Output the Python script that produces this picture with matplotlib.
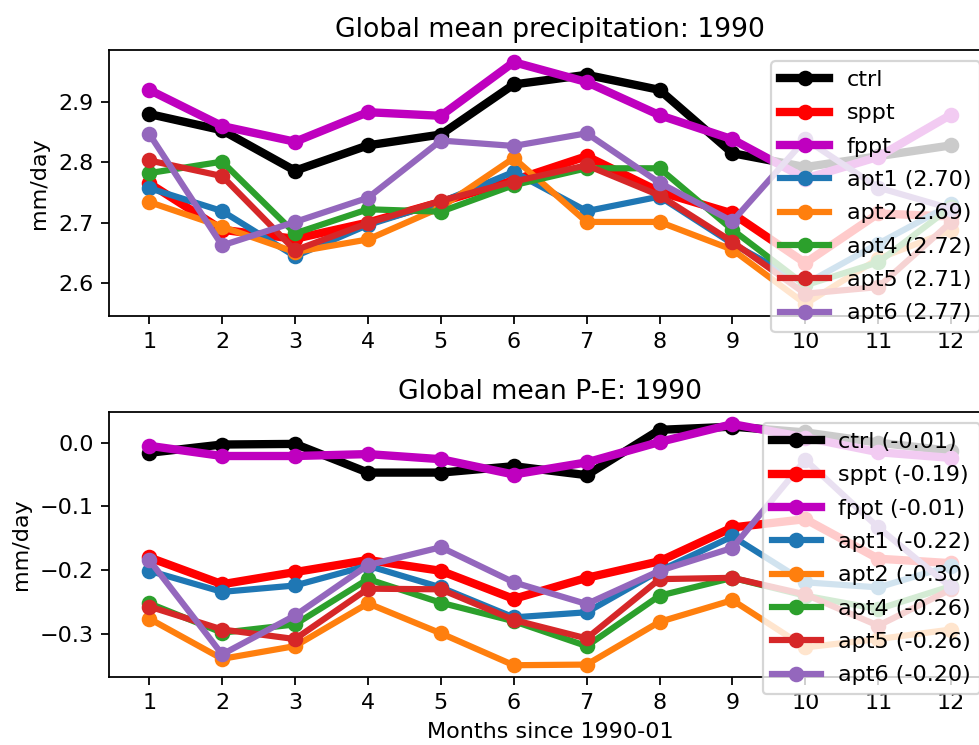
import numpy as np
import matplotlib
matplotlib.use("Agg")
import matplotlib.pyplot as plt

months = np.arange(1, 13)

# Global mean precipitation (mm/day)
pr_ctrl = [2.880, 2.853, 2.786, 2.828, 2.846, 2.929, 2.945, 2.920, 2.815, 2.792, 2.810, 2.828]
pr_sppt = [2.765, 2.688, 2.673, 2.700, 2.734, 2.770, 2.810, 2.751, 2.715, 2.633, 2.715, 2.710]
pr_fppt = [2.920, 2.860, 2.834, 2.883, 2.877, 2.966, 2.933, 2.878, 2.838, 2.773, 2.809, 2.879]
pr_apt1 = [2.757, 2.719, 2.644, 2.696, 2.734, 2.784, 2.719, 2.743, 2.665, 2.598, 2.665, 2.730]
pr_apt2 = [2.734, 2.693, 2.651, 2.672, 2.725, 2.807, 2.701, 2.701, 2.655, 2.565, 2.640, 2.687]
pr_apt4 = [2.782, 2.801, 2.682, 2.722, 2.718, 2.762, 2.790, 2.790, 2.688, 2.596, 2.634, 2.726]
pr_apt5 = [2.803, 2.777, 2.654, 2.699, 2.736, 2.768, 2.795, 2.745, 2.668, 2.582, 2.593, 2.701]
pr_apt6 = [2.847, 2.662, 2.701, 2.741, 2.836, 2.827, 2.848, 2.766, 2.702, 2.838, 2.758, 2.723]

# Global mean P-E (mm/day)
pe_ctrl = [-0.016, -0.003, -0.002, -0.047, -0.047, -0.037, -0.051, 0.020, 0.025, 0.016, 0.000, -0.013]
pe_sppt = [-0.180, -0.222, -0.203, -0.184, -0.201, -0.245, -0.212, -0.186, -0.133, -0.120, -0.182, -0.189]
pe_fppt = [-0.005, -0.021, -0.021, -0.018, -0.026, -0.050, -0.031, 0.001, 0.029, 0.008, -0.015, -0.024]
pe_apt1 = [-0.201, -0.234, -0.224, -0.193, -0.227, -0.274, -0.266, -0.201, -0.147, -0.219, -0.227, -0.193]
pe_apt2 = [-0.276, -0.339, -0.319, -0.252, -0.299, -0.349, -0.348, -0.281, -0.247, -0.321, -0.308, -0.293]
pe_apt4 = [-0.252, -0.298, -0.285, -0.214, -0.251, -0.280, -0.319, -0.240, -0.212, -0.240, -0.261, -0.225]
pe_apt5 = [-0.257, -0.293, -0.308, -0.229, -0.230, -0.278, -0.307, -0.214, -0.212, -0.238, -0.287, -0.230]
pe_apt6 = [-0.184, -0.332, -0.271, -0.192, -0.164, -0.219, -0.253, -0.201, -0.165, -0.027, -0.133, -0.227]

names = ["ctrl", "sppt", "fppt", "apt1", "apt2", "apt4", "apt5", "apt6"]
colors = ["k", "r", "m", "C0", "C1", "C2", "C3", "C4"]
widths = [3.75, 3.75, 3.75, 2.8, 2.8, 2.8, 2.8, 2.8]

pr = [pr_ctrl, pr_sppt, pr_fppt, pr_apt1, pr_apt2, pr_apt4, pr_apt5, pr_apt6]
pe = [pe_ctrl, pe_sppt, pe_fppt, pe_apt1, pe_apt2, pe_apt4, pe_apt5, pe_apt6]

DPI = 160
fig = plt.figure(figsize=(979/DPI, 745/DPI), dpi=DPI)
ax1 = fig.add_axes([0.1115, 0.5758, 0.901, 0.357])
ax2 = fig.add_axes([0.1115, 0.0909, 0.901, 0.356])

for i, name in enumerate(names):
    lab = name if i < 3 else "%s (%.2f)" % (name, np.mean(pr[i]))
    ax1.plot(months, pr[i], "o-", color=colors[i], lw=widths[i], label=lab)
ax1.set_title("Global mean precipitation: 1990")
ax1.set_ylabel("mm/day")
ax1.set_xticks(months)
ax1.legend(loc="upper right", labelspacing=0.6, handlelength=2.2)

for i, name in enumerate(names):
    lab = "%s (%.2f)" % (name, np.mean(pe[i]))
    ax2.plot(months, pe[i], "o-", color=colors[i], lw=widths[i], label=lab)
ax2.set_title("Global mean P-E: 1990")
ax2.set_ylabel("mm/day")
ax2.set_xlabel("Months since 1990-01")
ax2.set_xticks(months)
ax2.legend(loc="upper right", labelspacing=0.6, handlelength=2.2)

fig.savefig("out.png", dpi=DPI)
